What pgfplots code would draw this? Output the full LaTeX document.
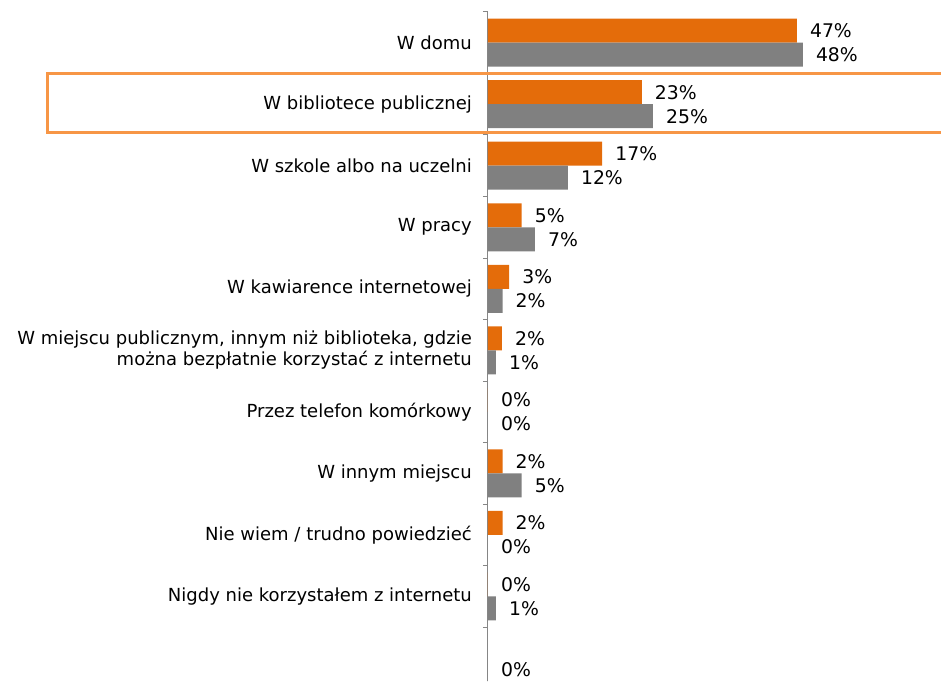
\documentclass[border=0pt]{standalone}
\usepackage{pgfplots}
\pgfplotsset{compat=1.18}
\usepackage{fontspec}
\setmainfont{DejaVu Sans}
\definecolor{barorange}{HTML}{E46C0A}
\definecolor{bargray}{HTML}{808080}
\definecolor{boxorange}{HTML}{F79646}
\definecolor{axisgray}{HTML}{868686}
\newcommand{\lblfont}{\fontsize{18}{21}\selectfont}
\newcommand{\pctfont}{\fontsize{18.8}{21}\selectfont}
\begin{document}
\begin{tikzpicture}
\begin{axis}[
  at={(0,0)}, anchor=south west,
  scale only axis, width=453pt, height=669pt,
  xbar, bar width=24pt,
  xmin=0, xmax=68.64,
  ymin=-0.378, ymax=10.5,
  axis x line=none,
  axis y line*=left,
  y axis line style={axisgray, line width=1pt, -},
  ytick={1,...,10},
  yticklabels={
    Nigdy nie korzystałem z internetu,
    Nie wiem / trudno powiedzieć,
    W innym miejscu,
    Przez telefon komórkowy,
    {W miejscu publicznym, innym niż biblioteka, gdzie\\można bezpłatnie korzystać z internetu},
    W kawiarence internetowej,
    W pracy,
    W szkole albo na uczelni,
    W bibliotece publicznej,
    W domu},
  major tick length=0pt,
  minor ytick={-0.5,0.5,...,10.5},
  minor tick length=5pt,
  tick align=outside,
  minor tick style={axisgray, line width=1pt},
  yticklabel style={font=\lblfont, align=right, anchor=east, inner sep=0pt, xshift=-16pt},
  clip=false,
  /pgf/number format/assume math mode=true,
  nodes near coords={\pgfmathprintnumber[fixed,precision=0]{\pgfplotspointmeta}\%},
  nodes near coords style={font=\pctfont, anchor=west, inner sep=0pt, xshift=13pt, text=black},
]
\addplot[fill=barorange, draw=none, bar shift=12pt] coordinates {
  (46.8,10) (23.3,9) (17.3,8) (5.1,7) (3.2,6) (2.1,5) (0,4) (2.2,3) (2.2,2) (0,1)
};
\addplot[fill=bargray, draw=none, bar shift=-12pt] coordinates {
  (47.7,10) (25.0,9) (12.1,8) (7.1,7) (2.2,6) (1.2,5) (0,4) (5.1,3) (0,2) (1.2,1) (0,0)
};
\draw[boxorange, line width=3pt] (axis cs:-66.7,9.492) rectangle (axis cs:70,8.533);
\end{axis}
\pgfresetboundingbox
\path[use as bounding box] (-488pt,0pt) rectangle (453pt,681pt);
\end{tikzpicture}
\end{document}
